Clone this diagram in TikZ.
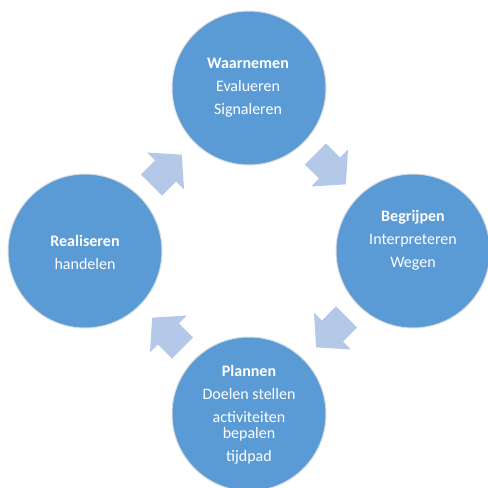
\documentclass[tikz,border=0pt]{standalone}
\usepackage{fontspec}
\setmainfont{Carlito}
\usetikzlibrary{calc}
\definecolor{phaseblue}{HTML}{5B9BD5}
\definecolor{arrowblue}{HTML}{B4C8E7}
\definecolor{rimgray}{HTML}{D9DDE2}
\begin{document}
\begin{tikzpicture}[x=1pt,y=-1pt,
  phase/.style={circle, fill=phaseblue, draw=rimgray, line width=1pt,
    minimum size=154pt, inner sep=0pt},
  phasetext/.style={text=white, align=center, inner sep=0pt,
    font=\fontsize{16}{16}\selectfont},
  cyclearrow/.pic={
    \fill[arrowblue] (-22,-15) -- (-2,-15) -- (-2,-26) -- (21,0)
      -- (-2,26) -- (-2,15) -- (-22,15) -- cycle;
  }]
\useasboundingbox (0,0) rectangle (488,488);

% the four phases of the cycle
\node[phase] (observe) at (249,88)  {};
\node[phase] (understand) at (413,251) {};
\node[phase] (plan) at (249,414) {};
\node[phase] (act) at (85,251) {};

% phase texts
\node[phasetext] (observeText) at (248,88)
  {\textbf{Waarnemen}\\[7pt]Evalueren\\[7pt]Signaleren};
\node[phasetext] (understandText) at (413,240)
  {\textbf{Begrijpen}\\[7pt]Interpreteren\\[7pt]Wegen};
\node[phasetext] (planText) at (249,414.5)
  {\textbf{Plannen}\\[7pt]Doelen stellen\\[7pt]activiteiten\\bepalen\\[7pt]tijdpad};
\node[phasetext] (actText) at (85,252.5)
  {\textbf{Realiseren}\\[7pt]handelen};

% block arrows between consecutive phases
\pic[rotate=-45]  at ($(observe)!0.5!(understand)$) {cyclearrow};
\pic[rotate=-135] at ($(understand)!0.5!(plan)$) {cyclearrow};
\pic[rotate=135]  at ($(plan)!0.5!(act)$) {cyclearrow};
\pic[rotate=45]   at ($(act)!0.5!(observe)$) {cyclearrow};
\end{tikzpicture}
\end{document}
